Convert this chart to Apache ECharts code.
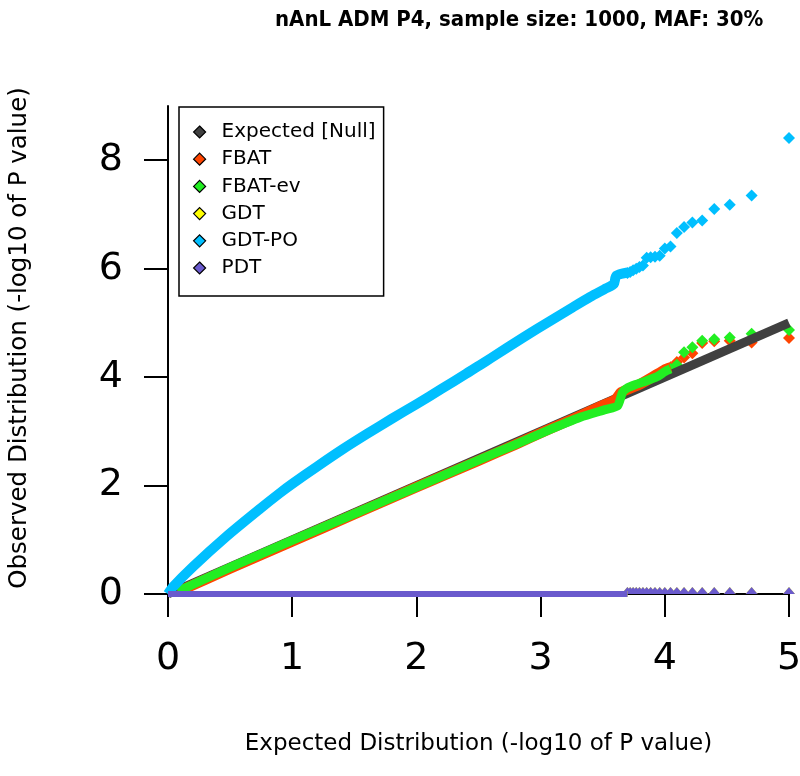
<!DOCTYPE html>
<html><head><meta charset="utf-8">
<script src="https://cdn.jsdelivr.net/npm/echarts@6/dist/echarts.min.js"></script>
<style>html,body{margin:0;padding:0;background:#fff}#c{width:800px;height:776px}</style>
</head><body><div id="c"></div>
<script>
const chartTitle = 'nAnL ADM P4, sample size: 1000, MAF: 30%';
const xTitle = 'Expected Distribution (-log10 of P value)';
const yTitle = 'Observed Distribution (-log10 of P value)';
const seriesNames = ['Expected [Null]', 'FBAT', 'FBAT-ev', 'GDT', 'GDT-PO', 'PDT'];
const seriesColors = ['#404040', '#FF4500', '#22EE22', '#FFFF00', '#00BFFF', '#6A5ACD'];
const xTicks = [0, 1, 2, 3, 4, 5];
const yTicks = [0, 2, 4, 6, 8];

// expected quantiles of the sparse upper tail (largest first)
const tailX = [5.000, 4.699, 4.523, 4.398, 4.301, 4.222, 4.155, 4.097, 4.046, 4.000,
               3.959, 3.921, 3.886, 3.854, 3.824, 3.796, 3.770, 3.745, 3.721, 3.699];

// dense parts (x, y)
const expectedBand = [[0, 0], [5, 5]];
const fbatBand = [[0.08, 0.04], [0.5, 0.47], [1, 0.97], [1.5, 1.47], [2, 1.97], [2.5, 2.46],
  [2.8, 2.76], [3.05, 3.02], [3.3, 3.27], [3.5, 3.48], [3.6, 3.58], [3.65, 3.72], [3.8, 3.87],
  [3.9, 4.0], [4.0, 4.14], [4.046, 4.18]];
const fbatEvBand = [[0.08, 0.05], [0.5, 0.49], [1, 0.99], [1.5, 1.48], [2, 1.97], [2.5, 2.47],
  [2.8, 2.76], [3.05, 3.01], [3.32, 3.26], [3.52, 3.40], [3.62, 3.47], [3.66, 3.72], [3.70, 3.80],
  [3.76, 3.86], [3.84, 3.92], [3.94, 4.01], [4.0, 4.10], [4.046, 4.15]];
const gdtBand = [[0, 0], [3.70, 0]];
const gdtPoBand = [[0, 0], [0.04, 0.13], [0.2, 0.5], [0.47, 1.06], [0.74, 1.57], [0.9, 1.86],
  [1.0, 2.03], [1.2, 2.35], [1.4, 2.66], [1.6, 2.95], [1.8, 3.23], [2.0, 3.50], [2.2, 3.78],
  [2.4, 4.06], [2.51, 4.22], [2.6, 4.35], [2.86, 4.73], [3.08, 5.04], [3.26, 5.29], [3.40, 5.48],
  [3.53, 5.64], [3.59, 5.72], [3.61, 5.87], [3.70, 5.93]];
const pdtBand = [[0, 0], [3.70, 0]];

// sparse tail observed values (paired with tailX)
const fbatTail = [4.72, 4.64, 4.67, 4.66, 4.63, 4.44, 4.36, 4.28, 4.18];
const fbatEvTail = [4.87, 4.80, 4.73, 4.70, 4.67, 4.55, 4.46, 4.23, 4.15];
const gdtTail = [0, 0, 0, 0, 0, 0, 0, 0, 0, 0, 0, 0, 0, 0, 0, 0, 0, 0, 0, 0];
const gdtPoTail = [8.41, 7.35, 7.18, 7.10, 6.89, 6.85, 6.77, 6.66, 6.41, 6.37,
                   6.24, 6.22, 6.21, 6.20, 6.06, 6.03, 6.00, 5.97, 5.94, 5.92];
const pdtTail = [0, 0, 0, 0, 0, 0, 0, 0, 0, 0, 0, 0, 0, 0, 0, 0, 0, 0, 0, 0];

const FONT = 'DejaVu Sans';
function pairTail(ys) { return ys.map((y, i) => [tailX[i], y]); }
function band(i, data, w, smooth) {
  return { name: seriesNames[i], type: 'line', data: data, symbol: 'none', showSymbol: false,
    smooth: smooth || false,
    lineStyle: { color: seriesColors[i], width: w || 9, join: 'round' }, itemStyle: { color: seriesColors[i] },
    silent: true, animation: false };
}
function tail(i, ys, opts) {
  return Object.assign({ name: seriesNames[i], type: 'scatter', data: pairTail(ys),
    symbol: 'diamond', symbolSize: 12, itemStyle: { color: seriesColors[i], opacity: 1 },
    silent: true, animation: false }, opts || {});
}
const halfDiamond = { symbol: 'triangle', symbolSize: [12, 7], symbolOffset: [0, -3.5] };

const chart = echarts.init(document.getElementById('c'), null, { renderer: 'canvas' });
chart.setOption({
  animation: false,
  backgroundColor: '#fff',
  textStyle: { fontFamily: FONT, color: '#000' },
  title: { text: chartTitle, left: 270, top: 4,
    textStyle: { fontFamily: 'DejaVu Sans Condensed', fontWeight: 'bold', fontSize: 22, color: '#000' } },
  grid: { left: 168, right: 11, top: 106, bottom: 182, containLabel: false, outerBoundsMode: 'none' },
  legend: {
    orient: 'vertical', left: 179, top: 107,
    data: seriesNames.map(n => ({ name: n, icon: 'diamond' })),
    itemWidth: 12, itemHeight: 12, itemGap: 7.2,
    padding: [15, 8, 18, 14],
    backgroundColor: '#fff', borderColor: '#000', borderWidth: 1.5, borderRadius: 0,
    itemStyle: { borderColor: '#000', borderWidth: 1.2 },
    textStyle: { fontFamily: FONT, fontSize: 20, color: '#000', padding: [0, 0, 0, 11] },
    selectedMode: false
  },
  xAxis: {
    type: 'value', min: 0, max: 5, interval: 1,
    name: xTitle, nameLocation: 'middle', nameGap: 139,
    nameTextStyle: { fontFamily: FONT, fontSize: 23, color: '#000' },
    axisLine: { show: true, onZero: false, lineStyle: { color: '#000', width: 2 } },
    axisTick: { show: true, length: 23, lineStyle: { color: '#000', width: 2 } },
    axisLabel: { fontFamily: FONT, fontSize: 38, color: '#000', margin: 46,
      customValues: xTicks },
    splitLine: { show: false }
  },
  yAxis: {
    type: 'value', min: 0, max: 9,
    name: yTitle, nameLocation: 'middle', nameGap: 136,
    nameTextStyle: { fontFamily: FONT, fontSize: 24.5, color: '#000', padding: [0, 0, 0, 24] },
    axisLine: { show: true, onZero: false, lineStyle: { color: '#000', width: 2 } },
    axisTick: { show: true, length: 24, lineStyle: { color: '#000', width: 2 }, customValues: yTicks },
    axisLabel: { fontFamily: FONT, fontSize: 38, color: '#000', margin: 45, customValues: yTicks },
    splitLine: { show: false }
  },
  series: [
    band(0, expectedBand, 9),
    band(1, fbatBand, 10.5, 0.2),
    tail(1, fbatTail),
    band(2, fbatEvBand, 9, 0.2),
    tail(2, fbatEvTail),
    band(3, gdtBand, 6),
    tail(3, gdtTail, halfDiamond),
    band(4, gdtPoBand, 10, 0.25),
    tail(4, gdtPoTail),
    band(5, pdtBand, 6),
    tail(5, pdtTail, halfDiamond)
  ]
});
</script></body></html>
